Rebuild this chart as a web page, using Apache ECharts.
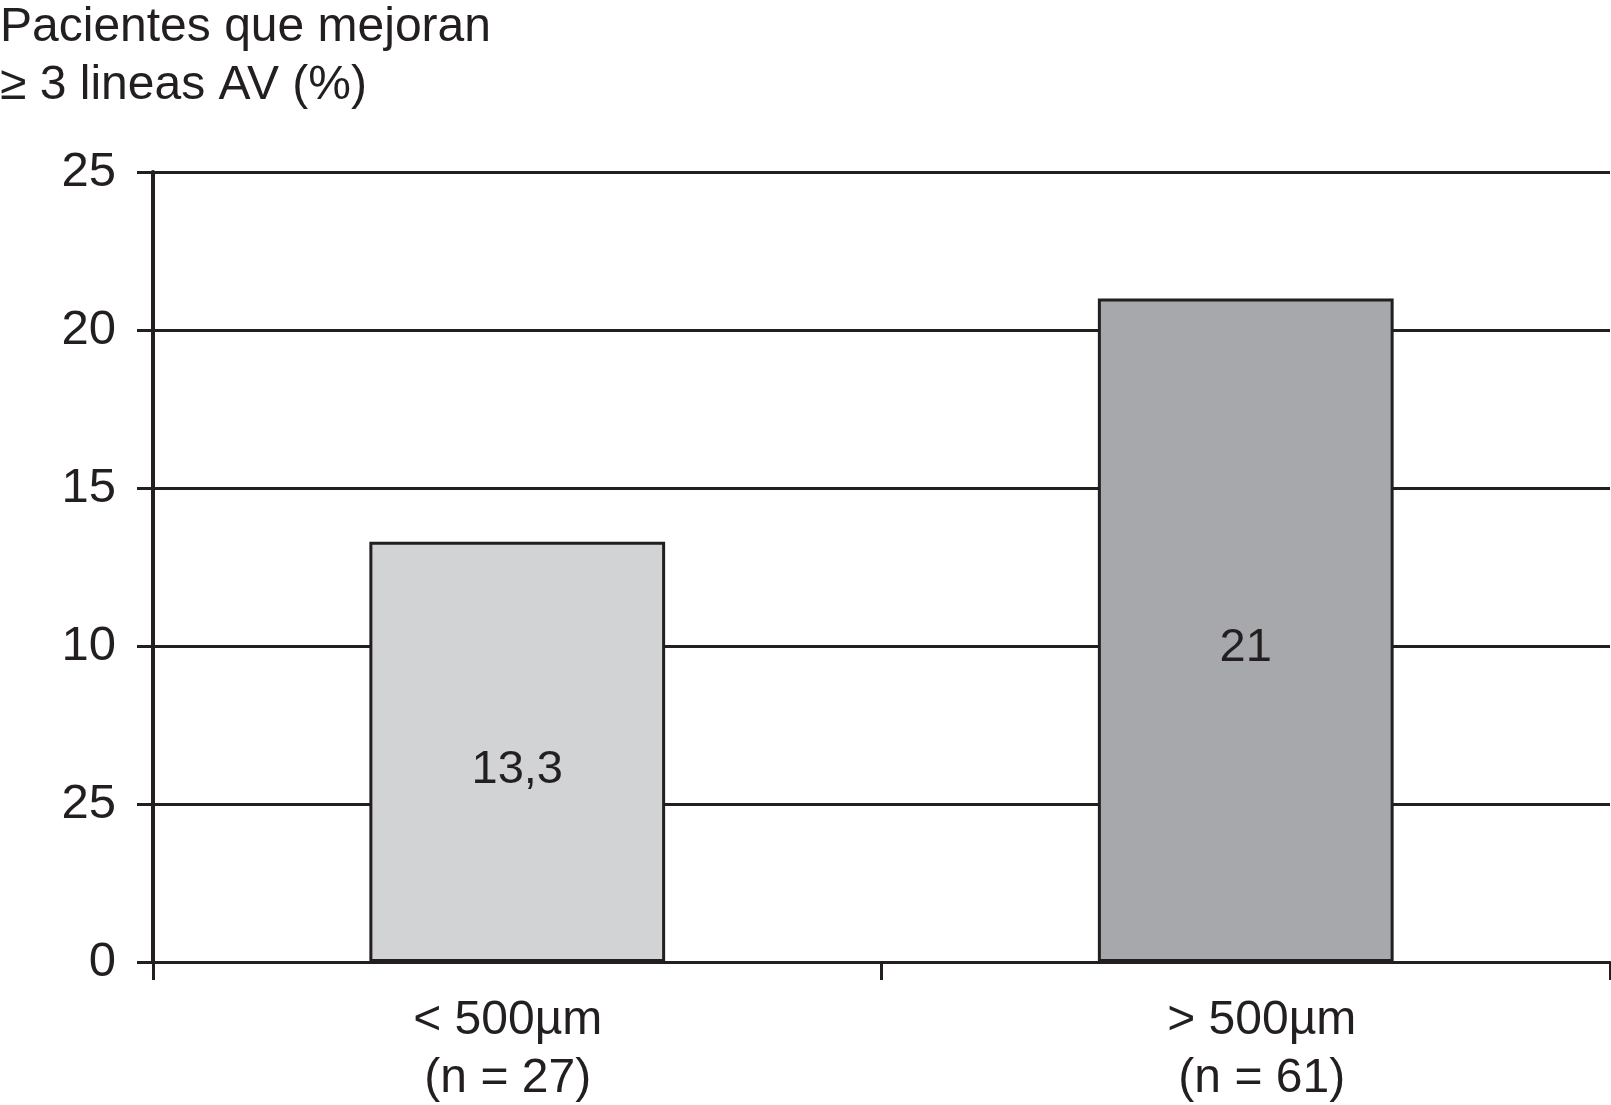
<!DOCTYPE html>
<html>
<head>
<meta charset="utf-8">
<script src="https://cdn.jsdelivr.net/npm/echarts@6/dist/echarts.min.js"></script>
<style>
  html, body { margin: 0; padding: 0; background: #fff; }
  #main { width: 1611px; height: 1105px; }
</style>
</head>
<body>
<div id="main"></div>
<script>
// data
var categories = ['< 500\u00b5m\n(n = 27)', '> 500\u00b5m\n(n = 61)'];
var values = [13.3, 21];
var valueLabels = ['13,3', '21'];
var barColors = ['#d1d3d5', '#a7a8ab'];
// tick labels as printed (the 5 tick reads "25" in the original)
var yTickLabels = ['0', '25', '10', '15', '20', '25'];

var ink = '#231f20';
var font = 'Liberation Sans';

var chart = echarts.init(document.getElementById('main'));
chart.setOption({
  animation: false,
  backgroundColor: '#fff',
  title: {
    text: 'Pacientes que mejoran\n\u2265 3 lineas AV (%)',
    left: 0,
    top: -1,
    padding: 0,
    textStyle: { fontFamily: font, fontSize: 48, fontWeight: 'normal', color: ink, lineHeight: 58 }
  },
  grid: { left: 153, right: 1, top: 172, height: 790, containLabel: false },
  xAxis: {
    type: 'category',
    data: categories,
    boundaryGap: true,
    axisLine: { show: true, lineStyle: { color: ink, width: 3 } },
    axisTick: { show: true, length: 18, inside: false, lineStyle: { color: ink, width: 3 } },
    axisLabel: {
      margin: 30,
      interval: 0,
      // the printed labels sit a little off the category centres
      formatter: function (v, i) {
        return v.split('\n').map(function (s) {
          return '{' + (i === 0 ? 'a' : 'b') + '|' + s + '}';
        }).join('\n');
      },
      rich: {
        a: { fontFamily: font, fontSize: 48, color: ink, lineHeight: 58, padding: [0, 19, 0, 0] },
        b: { fontFamily: font, fontSize: 48, color: ink, lineHeight: 58, padding: [0, 0, 0, 32] }
      }
    },
    splitLine: { show: false }
  },
  yAxis: {
    type: 'value',
    min: 0,
    max: 25,
    interval: 5,
    axisLine: { show: true, lineStyle: { color: ink, width: 4 } },
    axisTick: { show: true, length: 16, lineStyle: { color: ink, width: 3 } },
    axisLabel: {
      margin: 37,
      fontFamily: font, fontSize: 49, color: ink,
      formatter: function (v) { return yTickLabels[Math.round(v / 5)]; }
    },
    splitLine: { show: true, lineStyle: { color: ink, width: 3 } }
  },
  series: [{
    type: 'bar',
    barWidth: '40.6%',
    data: values.map(function (v, i) {
      return { value: v, itemStyle: { color: barColors[i] } };
    }),
    itemStyle: { borderColor: ink, borderWidth: 3 },
    label: {
      show: true,
      position: 'inside',
      offset: [0, 18],
      fontFamily: font, fontSize: 47, color: ink,
      formatter: function (p) { return valueLabels[p.dataIndex]; }
    },
    z: 3
  }]
});
</script>
</body>
</html>
